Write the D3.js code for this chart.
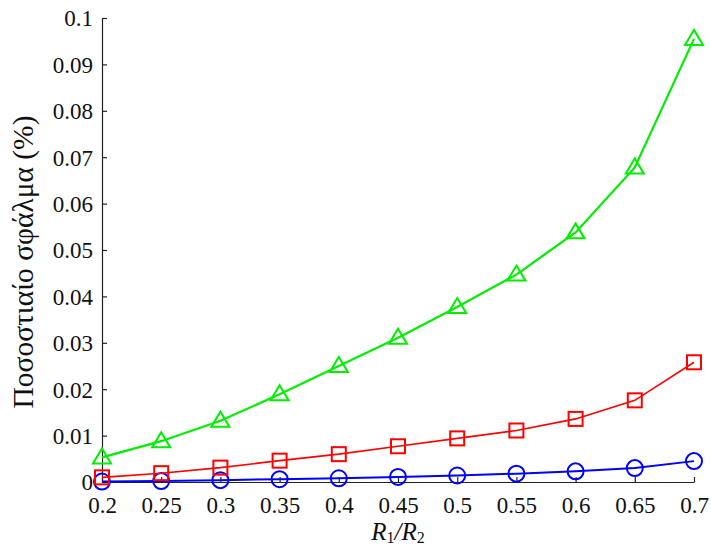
<!DOCTYPE html>
<html>
<head>
<meta charset="utf-8">
<script src="https://cdn.jsdelivr.net/npm/d3@7"></script>
<style>
  html, body { margin: 0; padding: 0; background: #fff; }
  svg { display: block; }
  svg text { font-family: "Liberation Serif", "Times New Roman", "DejaVu Serif", serif; fill: #111; }
</style>
</head>
<body>
<svg id="chart" width="711" height="547"></svg>
<script>
// Ratio R1/R2 on the horizontal axis
const ratios = [0.2, 0.25, 0.3, 0.35, 0.4, 0.45, 0.5, 0.55, 0.6, 0.65, 0.7];

// Percentage error for each of the three cases
const errorCircle   = [0.0001, 0.0002, 0.0004, 0.0006, 0.0008, 0.0011, 0.0014, 0.0018, 0.0023, 0.0030, 0.0045];
const errorSquare   = [0.0010, 0.0019, 0.0031, 0.0046, 0.0060, 0.0077, 0.0094, 0.0111, 0.0136, 0.0176, 0.0258];
const errorTriangle = [0.0053, 0.0088, 0.0132, 0.0189, 0.0250, 0.0311, 0.0377, 0.0447, 0.0538, 0.0678, 0.0955];

const xTicks = [0.2, 0.25, 0.3, 0.35, 0.4, 0.45, 0.5, 0.55, 0.6, 0.65, 0.7];
const yTicks = [0, 0.01, 0.02, 0.03, 0.04, 0.05, 0.06, 0.07, 0.08, 0.09, 0.1];

const serif = '"Liberation Serif", "Times New Roman", "DejaVu Serif", serif';
const svg = d3.select("#chart");
const plotLeft = 102, plotRight = 694, plotTop = 18, plotBottom = 482;

const x = d3.scaleLinear().domain([0.2, 0.7]).range([plotLeft, plotRight]);
const y = d3.scaleLinear().domain([0, 0.1]).range([plotBottom, plotTop]);

// Axes with inward ticks
const fmt = d => String(+d.toFixed(2));
const xAxis = d3.axisBottom(x).tickValues(xTicks).tickSizeInner(-5).tickSizeOuter(0)
  .tickPadding(10).tickFormat(fmt);
const yAxis = d3.axisLeft(y).tickValues(yTicks).tickSizeInner(-5).tickSizeOuter(0)
  .tickPadding(9).tickFormat(fmt);

const gx = svg.append("g").attr("transform", `translate(0,${plotBottom})`).call(xAxis);
const gy = svg.append("g").attr("transform", `translate(${plotLeft},0)`).call(yAxis);
[gx, gy].forEach(g => {
  g.attr("font-family", serif).attr("font-size", 23);
  g.selectAll("path, line").attr("stroke", "#222").attr("stroke-width", 1.2);
  g.selectAll("text").style("font-family", serif).style("font-size", "23px").attr("fill", "#111");
});
gx.selectAll("text").attr("dy", null).attr("y", 31);
gy.selectAll("text").attr("dy", "0.34em");

// Axis titles
const yl = svg.append("text")
  .attr("transform", `translate(33,${(plotTop + plotBottom) / 2 + 12}) rotate(-90)`)
  .attr("text-anchor", "middle")
  .attr("font-size", 26)
  .text("Ποσοστιαίο σφάλμα (%)");
// fit the vertical title to its span along the axis
const ylLen = yl.node().getComputedTextLength();
yl.attr("font-size", 26 * 293 / ylLen);

const xl = svg.append("text")
  .attr("x", (plotLeft + plotRight) / 2).attr("y", 540)
  .attr("text-anchor", "middle")
  .attr("font-size", 25)
  .attr("font-style", "italic");
xl.append("tspan").text("R");
xl.append("tspan").attr("font-size", 16).attr("font-style", "normal").attr("dy", 3).text("1");
xl.append("tspan").attr("dy", -3).text("/R");
xl.append("tspan").attr("font-size", 16).attr("font-style", "normal").attr("dy", 3).text("2");

const line = d3.line().x(d => x(d[0])).y(d => y(d[1]));

const series = [
  { values: errorCircle,   color: "#0000ff", marker: "circle",   width: 2 },
  { values: errorSquare,   color: "#ff0000", marker: "square",   width: 1.6 },
  { values: errorTriangle, color: "#00ee00", marker: "triangle", width: 2.2 }
];

series.forEach(s => {
  const pts = ratios.map((r, i) => [r, s.values[i]]);
  svg.append("path").datum(pts)
    .attr("fill", "none").attr("stroke", s.color).attr("stroke-width", s.width)
    .attr("d", line);
  const g = svg.append("g").attr("fill", "none").attr("stroke", s.color).attr("stroke-width", 2);
  pts.forEach(p => {
    const cx = x(p[0]), cy = y(p[1]);
    if (s.marker === "circle") {
      g.append("circle").attr("cx", cx).attr("cy", cy).attr("r", 8);
    } else if (s.marker === "square") {
      g.append("rect").attr("x", cx - 7).attr("y", cy - 7).attr("width", 14).attr("height", 14);
    } else {
      g.append("path").attr("d", `M${cx},${cy - 9}L${cx + 9},${cy + 6}L${cx - 9},${cy + 6}Z`);
    }
  });
});
</script>
</body>
</html>
